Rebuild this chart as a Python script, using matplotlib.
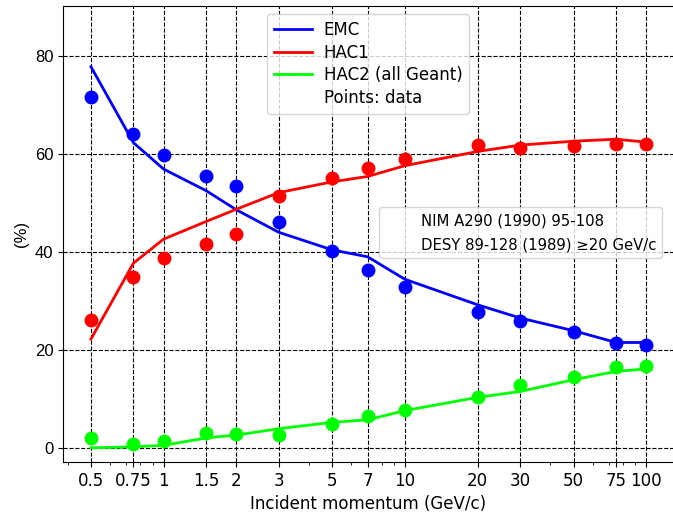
#!/usr/bin/env python3
# coding=utf-8

import numpy as np
from matplotlib import pyplot as plt
from matplotlib.lines import Line2D
from matplotlib.ticker import FixedLocator, FixedFormatter, LogLocator, NullFormatter

# Incident momentum (GeV/c)
momentum = [0.5, 0.75, 1, 1.5, 2, 3, 5, 7, 10, 20, 30, 50, 75, 100]
tickLabels = ["0.5", "0.75", "1", "1.5", "2", "3", "5", "7", "10", "20", "30", "50", "75", "100"]
yTicks = [0, 20, 40, 60, 80]

# Geant simulation (%)
emcSim = [77.8, 62.3, 56.9, 52.5, 48.6, 44.0, 40.4, 39.0, 34.4, 29.2, 26.5, 23.9, 21.5, 21.5]
hac1Sim = [22.2, 37.7, 42.6, 46.2, 48.7, 52.1, 54.3, 55.4, 57.6, 60.5, 61.8, 62.6, 63.0, 62.4]
hac2Sim = [0.0, 0.2, 0.5, 2.0, 2.6, 3.9, 5.2, 5.7, 7.6, 10.3, 11.5, 13.9, 15.6, 16.1]

# Measured data (%)
emcData = [71.7, 64.1, 59.7, 55.5, 53.5, 46.0, 40.1, 36.3, 32.9, 27.8, 25.8, 23.7, 21.4, 21.0]
hac1Data = [26.1, 34.8, 38.8, 41.6, 43.7, 51.4, 55.1, 57.1, 59.0, 61.8, 61.2, 61.7, 62.0, 62.0]
hac2Data = [2.0, 0.75, 1.4, 3.0, 2.8, 2.6, 4.8, 6.4, 7.8, 10.3, 12.9, 14.5, 16.5, 16.8]


def main():
    fig = plt.figure(figsize=(6.73, 5.13), dpi=100)
    ax = fig.add_axes([63 / 673, 51 / 513, 1 - 63 / 673, 456 / 513])

    series = [
        (emcSim, emcData, "#0000ff", "EMC"),
        (hac1Sim, hac1Data, "#ff0000", "HAC1"),
        (hac2Sim, hac2Data, "#00ff00", "HAC2 (all Geant)"),
    ]
    for sim, data, color, label in series:
        ax.plot(momentum, sim, color=color, lw=2, label=label)
        ax.plot(momentum, data, "o", color=color, ms=9)

    ax.set_xscale("log")
    ax.set_xlim(0.383, 129)
    ax.set_ylim(-2.9, 90.2)
    ax.xaxis.set_major_locator(FixedLocator(momentum))
    ax.xaxis.set_major_formatter(FixedFormatter(tickLabels))
    ax.xaxis.set_minor_locator(LogLocator(base=10, subs=np.arange(2, 10), numticks=20))
    ax.xaxis.set_minor_formatter(NullFormatter())
    ax.tick_params(axis="x", which="major", labelsize=12)
    ax.set_yticks(yTicks, labels=[str(v) for v in yTicks],
                  fontfamily="Liberation Sans", fontsize=12)
    ax.spines["right"].set_visible(False)

    ax.grid(True, which="major", color="black", ls="--", lw=0.8)

    ax.set_xlabel("Incident momentum (GeV/c)", fontsize=12)
    ax.set_ylabel("(%)", fontsize=12, family="Liberation Sans")

    handles, labels = ax.get_legend_handles_labels()
    handles.append(Line2D([], [], color="none"))
    labels.append("Points: data")
    leg = ax.legend(handles, labels, loc="upper center", fontsize=12,
                    labelspacing=0.28, handlelength=2.3, handletextpad=0.7)
    ax.add_artist(leg)

    refHandles = [Line2D([], [], color="none"), Line2D([], [], color="none")]
    refLabels = ["NIM A290 (1990) 95-108", "DESY 89-128 (1989) \u226520 GeV/c"]
    ax.legend(refHandles, refLabels, loc="upper left", bbox_to_anchor=(0.518, 0.559),
              fontsize=10.7, borderaxespad=0, labelspacing=0.63,
              handlelength=1.6, handletextpad=0.8)

    fig.savefig("out.png", dpi=100)


if __name__ == "__main__":
    main()
